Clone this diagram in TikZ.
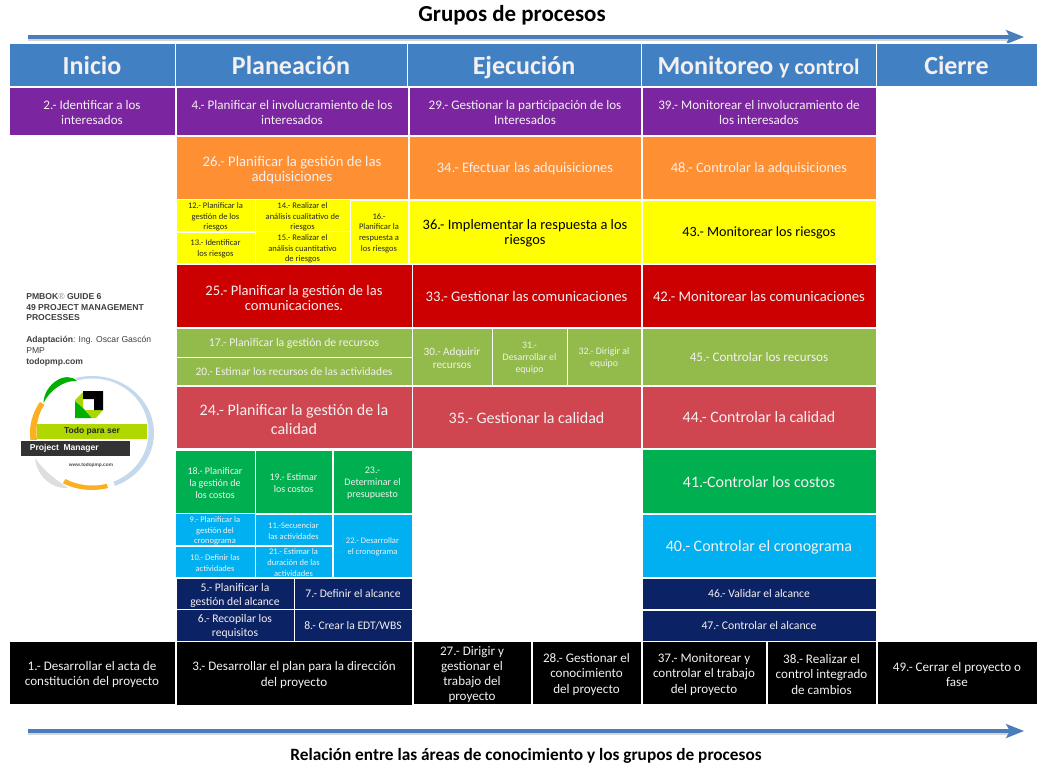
\documentclass[tikz,border=0pt]{standalone}
\usepackage{fontspec}
\setmainfont{Carlito}
\newfontfamily\arialf{Liberation Sans}
\usetikzlibrary{arrows.meta}
\definecolor{hdr}{HTML}{4280C4}
\definecolor{purp}{HTML}{7B25A0}
\definecolor{oran}{HTML}{FF8F33}
\definecolor{yell}{HTML}{FFFF00}
\definecolor{redd}{HTML}{CC0000}
\definecolor{lime}{HTML}{92BB4B}
\definecolor{rose}{HTML}{CF4650}
\definecolor{gree}{HTML}{00B050}
\definecolor{skyb}{HTML}{00B0F0}
\definecolor{navy}{HTML}{0B2265}
\definecolor{arro}{HTML}{4A7EBB}
\definecolor{softw}{HTML}{F4F0F0}
\definecolor{lring}{HTML}{C4D9EC}
\definecolor{oring}{HTML}{FAB020}
\definecolor{gring}{HTML}{DEDEDE}
\definecolor{kgreen}{HTML}{00AF00}
\definecolor{klime}{HTML}{AAD700}
\definecolor{kbar}{HTML}{B0D800}
\tikzset{
  cellbox/.style={draw=white,line width=0.75pt,inner sep=0pt,align=center,text=softw},
  dark/.style={text=black!85},
  flow/.style={draw=arro,line width=2.4pt,-{Stealth[length=13.5pt,width=10.5pt,inset=3pt]}},
  flowshadow/.style={draw=black!35,line width=2.2pt,opacity=.45},
}
% name, x0,y0,x1,y1, fill, font size pt, text, extra options
% leading is 1.15 x size unless the extra options set their own font
\newcommand{\ccell}[9]{%
  \pgfmathsetmacro\celllead{#7*1.15}%
  \node[cellbox,fill=#6,font=\fontsize{#7}{\celllead}\selectfont,#9,minimum width={(#4-#2)*0.75pt},minimum height={(#5-#3)*0.75pt}]
    (#1) at ({(#2+#4)/2},{(#3+#5)/2}) {\rule[-0.25em]{0pt}{1.25em}#8};}
\newcommand{\hdrtxt}[1]{\bfseries #1}
\begin{document}
\begin{tikzpicture}[x=0.75pt,y=-0.75pt]
\useasboundingbox (0,0) rectangle (1037,767);
\fill[white] (0,0) rectangle (1037,767);
% arrows and titles
\node[font=\bfseries\fontsize{17.2}{20}\selectfont] (title) at (512,15) {Grupos de procesos};
\coordinate (a1) at (28,37); \coordinate (a2) at (1024,37);
\coordinate (a1s) at (28,40); \coordinate (a2s) at (1012,40);
\draw[flowshadow] (a1s) -- (a2s);
\draw[flow] (a1) -- (a2);
\node[font=\bfseries\fontsize{12.95}{15}\selectfont] (bottom) at (526,756) {Relación entre las áreas de conocimiento y los grupos de procesos};
\coordinate (b1) at (28,731); \coordinate (b2) at (1024,731);
\coordinate (b1s) at (28,734); \coordinate (b2s) at (1012,734);
\draw[flowshadow] (b1s) -- (b2s);
\draw[flow] (b1) -- (b2);
% headers
\ccell{h1}{9}{44}{175}{86}{hdr}{19.5}{\hdrtxt{Inicio}}{}
\ccell{h2}{175}{44}{407}{86}{hdr}{19.5}{\hdrtxt{Planeación}}{}
\ccell{h3}{407}{44}{641}{86}{hdr}{19.5}{\hdrtxt{Ejecución}}{}
\ccell{h4}{641}{44}{876}{86}{hdr}{19.5}{\hdrtxt{Monitoreo \fontsize{16.5}{20}\selectfont y control}}{}
\ccell{h5}{876}{44}{1037}{86}{hdr}{19.5}{\hdrtxt{Cierre}}{}
% purple
\ccell{p2}{9}{87}{175}{135}{purp}{9.8}{2.- Identificar a los\\interesados}{}
\ccell{p4}{176}{87}{408}{135}{purp}{9.8}{4.- Planificar el involucramiento de los\\interesados}{}
\ccell{p29}{409}{87}{641}{135}{purp}{9.8}{29.- Gestionar la participación de los\\Interesados}{}
\ccell{p39}{642}{87}{876}{135}{purp}{9.8}{39.- Monitorear el involucramiento de\\los interesados}{}
% orange
\ccell{o26}{176}{136}{408}{199}{oran}{11}{26.- Planificar la gestión de las\\adquisiciones}{font=\fontsize{11}{11.25}\selectfont}
\ccell{o34}{409}{136}{641}{199}{oran}{10.9}{34.- Efectuar las adquisiciones}{}
\ccell{o48}{642}{136}{876}{199}{oran}{10.8}{48.- Controlar la adquisiciones}{}
% yellow
\ccell{y12}{176}{200}{255}{231}{yell}{6.4}{12.- Planificar la\\gestión de los\\riesgos}{dark,font=\fontsize{6.4}{8}\selectfont}
\ccell{y14}{255}{200}{350}{231}{yell}{6.4}{14.- Realizar el\\análisis cualitativo de\\riesgos}{dark,font=\fontsize{6.4}{8}\selectfont}
\ccell{y13}{176}{232}{255}{263}{yell}{6.4}{13.- Identificar\\los riesgos}{dark,font=\fontsize{6.4}{8}\selectfont}
\ccell{y15}{255}{232}{350}{263}{yell}{6.4}{15.- Realizar el\\análisis cuantitativo\\de riesgos}{dark,font=\fontsize{6.4}{8}\selectfont}
\ccell{y16}{350}{200}{408}{263}{yell}{6.4}{16.-\\Planificar la\\respuesta a\\los riesgos}{dark,font=\fontsize{6.4}{8}\selectfont}
\ccell{y36}{409}{200}{641}{263}{yell}{10.8}{36.- Implementar la respuesta a los\\riesgos}{text=black,font=\fontsize{10.8}{11.25}\selectfont}
\ccell{y43}{642}{200}{876}{263}{yell}{10.6}{43.- Monitorear los riesgos}{text=black}
% red
\ccell{r25}{176}{264}{412}{327}{redd}{10.9}{25.- Planificar la gestión de las\\comunicaciones.}{font=\fontsize{10.9}{11.25}\selectfont}
\ccell{r33}{412}{264}{641}{327}{redd}{11}{33.- Gestionar las comunicaciones}{}
\ccell{r42}{642}{264}{876}{327}{redd}{11}{42.- Monitorear las comunicaciones}{}
% lime
\ccell{l17}{176}{328}{412}{357}{lime}{8.8}{17.- Planificar la gestión de recursos}{}
\ccell{l20}{176}{357}{412}{385}{lime}{8.6}{20.- Estimar los recursos de las actividades}{}
\ccell{l30}{412}{328}{492}{385}{lime}{8.4}{30.- Adquirir\\recursos}{font=\fontsize{8.4}{10.4}\selectfont}
\ccell{l31}{492}{328}{567}{385}{lime}{7.4}{31.-\\Desarrollar el\\equipo}{font=\fontsize{7.4}{9}\selectfont}
\ccell{l32}{567}{328}{641}{385}{lime}{7.4}{32.- Dirigir al\\equipo}{font=\fontsize{7.4}{9}\selectfont}
\ccell{l45}{642}{328}{876}{385}{lime}{9.8}{45.- Controlar los recursos}{}
% rose
\ccell{s24}{176}{386}{412}{448}{rose}{12}{24.- Planificar la gestión de la\\calidad}{font=\fontsize{12}{14.25}\selectfont}
\ccell{s35}{412}{386}{641}{448}{rose}{12}{35.- Gestionar la calidad}{}
\ccell{s44}{642}{386}{876}{448}{rose}{11.9}{44.- Controlar la calidad}{}
% green
\ccell{g18}{175}{450}{255}{513}{gree}{7.5}{18.- Planificar\\la gestión de\\los costos}{font=\fontsize{7.5}{8.8}\selectfont}
\ccell{g19}{255}{450}{332}{513}{gree}{7.5}{19.- Estimar\\los costos}{font=\fontsize{7.5}{8.8}\selectfont}
\ccell{g23}{333}{450}{412}{513}{gree}{7.5}{23.-\\Determinar el\\presupuesto}{font=\fontsize{7.5}{8.8}\selectfont}
\ccell{g41}{642}{449}{876}{513}{gree}{12}{41.-Controlar los costos}{}
% blue
\ccell{b9}{175}{514}{255}{545}{skyb}{6.4}{9.- Planificar la\\gestión del\\cronograma}{font=\fontsize{6.4}{8.2}\selectfont}
\ccell{b10}{175}{546}{255}{577}{skyb}{6.4}{10.- Definir las\\actividades}{font=\fontsize{6.4}{8.2}\selectfont}
\ccell{b11}{255}{514}{332}{545}{skyb}{6.4}{11.-Secuenciar\\las actividades}{font=\fontsize{6.4}{8.2}\selectfont}
\ccell{b21}{255}{546}{332}{577}{skyb}{6.4}{21.- Estimar la\\duración de las\\actividades}{font=\fontsize{6.4}{8.2}\selectfont}
\ccell{b22}{333}{514}{412}{577}{skyb}{6.4}{22.- Desarrollar\\el cronograma}{font=\fontsize{6.4}{8.2}\selectfont}
\ccell{b40}{642}{514}{876}{577}{skyb}{12}{40.- Controlar el cronograma}{}
% navy
\ccell{n5}{176}{578}{294}{609}{navy}{8.7}{5.- Planificar la\\gestión del alcance}{font=\fontsize{8.7}{10.5}\selectfont}
\ccell{n7}{294}{578}{412}{609}{navy}{8.7}{7.- Definir el alcance}{}
\ccell{n6}{176}{609}{294}{641}{navy}{8.7}{6.- Recopilar los\\requisitos}{font=\fontsize{8.7}{10.5}\selectfont}
\ccell{n8}{294}{609}{412}{641}{navy}{8.7}{8.- Crear la EDT/WBS}{}
\ccell{n46}{642}{578}{876}{609}{navy}{8.7}{46.- Validar el alcance}{}
\ccell{n47}{642}{610}{876}{641}{navy}{8.8}{47.- Controlar el alcance}{}
% black
\ccell{k1}{9}{641}{175}{704}{black}{9.8}{1.- Desarrollar el acta de\\constitución del proyecto}{}
\ccell{k3}{176}{641}{412}{705}{black}{9.8}{3.- Desarrollar el plan para la dirección\\del proyecto}{}
\ccell{k27}{413}{641}{531}{704}{black}{9.8}{27.- Dirigir y\\gestionar el\\trabajo del\\proyecto}{}
\ccell{k28}{532}{641}{641}{704}{black}{9.8}{28.- Gestionar el\\conocimiento\\del proyecto}{}
\ccell{k37}{642}{641}{766}{704}{black}{9.8}{37.- Monitorear y\\controlar el trabajo\\del proyecto}{}
\ccell{k38}{767}{641}{876}{704}{black}{9.8}{38.- Realizar el\\control integrado\\de cambios}{}
\ccell{k49}{877}{641}{1037}{704}{black}{9.8}{49.- Cerrar el proyecto o\\fase}{}
% side text
\node[anchor=north west,inner sep=0pt,align=left,text=black!75,font=\arialf\fontsize{6.45}{8.1}\selectfont] (side) at (26,293)
 {\textbf{PMBOK}\textcolor{black!45}{®} \textbf{GUIDE 6}\\\textbf{49 PROJECT MANAGEMENT}\\\textbf{PROCESSES}\\[8.4pt]\textbf{Adaptación}: Ing. Oscar Gascón\\PMP\\\textbf{todopmp.com}};
% logo
\coordinate (lc) at (92,433);
\fill[oring] (lc) -- ++(155:62 and 57) arc[start angle=155,end angle=213,x radius=62,y radius=57] -- cycle;
\fill[oring] (lc) -- ++(75:62 and 57) arc[start angle=75,end angle=118,x radius=62,y radius=57] -- cycle;
\fill[lring] (lc) -- ++(255:62 and 57) arc[start angle=255,end angle=428,x radius=62,y radius=57] -- cycle;
\fill[white] (92.5,432) ellipse [x radius=56,y radius=53.5];
\fill[gring] (35,458) .. controls (36,472) and (48,489) .. (68,488) .. controls (60,482) and (46,474) .. (35,458) -- cycle;
\fill[kgreen] (43.5,403) .. controls (44,384) and (66,370) .. (77,381) .. controls (64,380) and (50,390) .. (43.5,403) -- cycle;
\fill[klime] (75,400) -- (83,392) -- (83,408) -- cycle;
\fill[kgreen] (75,401) -- (75,418) -- (92,418) -- (83,408) -- cycle;
\fill[klime] (92,418) -- (96,418) -- (103,410) -- (85,410) -- cycle;
\fill[black] (83,391) -- (103,391) -- (103,410) -- (94,410) -- (94,399) -- (83,399) -- cycle;
\node[fill=kbar,minimum width=82.5pt,minimum height=11.5pt,inner sep=0pt,font=\arialf\bfseries\fontsize{6.4}{8}\selectfont,text=black!85] (logoa) at (92,431.5) {Todo para ser};
\node[draw=white,line width=.4pt,fill=black!80,minimum width=82.5pt,minimum height=12pt,inner sep=0pt,font=\arialf\bfseries\fontsize{6.4}{8}\selectfont,text=white] (logob) at (75,448) {\hspace*{-16pt}Project\ \ Manager};
\node[inner sep=0pt,font=\arialf\bfseries\fontsize{3.6}{4}\selectfont,text=black!70] (logoc) at (91,465) {www.todopmp.com};
\end{tikzpicture}
\end{document}
